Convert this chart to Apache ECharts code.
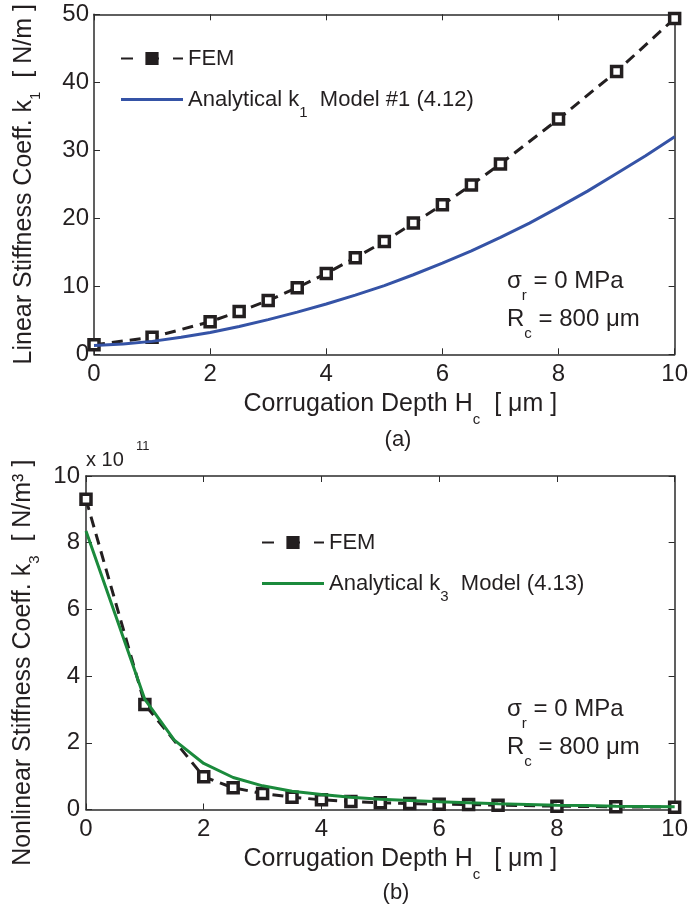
<!DOCTYPE html>
<html>
<head>
<meta charset="utf-8">
<script src="https://cdn.jsdelivr.net/npm/echarts@6/dist/echarts.min.js"></script>
<style>
  html, body { margin: 0; padding: 0; background: #ffffff; }
  #chart { width: 691px; height: 907px; }
</style>
</head>
<body>
<div id="chart"></div>
<script>
// Corrugation depth samples (µm)
const depthFem = [0, 1, 2, 2.5, 3, 3.5, 4, 4.5, 5, 5.5, 6, 6.5, 7, 8, 9, 10];
const depthModel = [0, 0.5, 1, 1.5, 2, 2.5, 3, 3.5, 4, 4.5, 5, 5.5, 6, 6.5, 7, 7.5, 8, 8.5, 9, 9.5, 10];

// (a) linear stiffness k1 [N/m]
const k1Fem = [1.4, 2.5, 4.8, 6.3, 7.9, 9.8, 11.9, 14.2, 16.6, 19.3, 22.0, 24.9, 28.0, 34.6, 41.6, 49.4];
const k1Model = [1.3, 1.5, 1.9, 2.5, 3.2, 4.1, 5.1, 6.2, 7.4, 8.7, 10.1, 11.7, 13.4, 15.2, 17.2, 19.3, 21.6, 24.0, 26.6, 29.2, 32.0];

// (b) nonlinear stiffness k3 [x 1e11 N/m^3]
const k3Fem = [9.3, 3.15, 0.98, 0.65, 0.48, 0.37, 0.29, 0.24, 0.20, 0.18, 0.16, 0.15, 0.13, 0.10, 0.08, 0.07];
const k3Model = [8.35, 5.83, 3.3, 2.08, 1.38, 0.96, 0.71, 0.55, 0.45, 0.37, 0.31, 0.27, 0.23, 0.20, 0.17, 0.15, 0.13, 0.12, 0.10, 0.09, 0.08];

// Axis tick values
const depthTicks = [0, 2, 4, 6, 8, 10];
const k1Ticks = [0, 10, 20, 30, 40, 50];
const k3Ticks = [0, 2, 4, 6, 8, 10];

const FONT = "'Liberation Sans', Arial, Helvetica, sans-serif";
const INK = '#231f20';
const FRAME = '#2b2b2b';
const BLUE = '#3553a6';
const GREEN = '#1b8a3c';

const pairs = (xs, ys) => xs.map((x, i) => [x, ys[i]]);

function tickRange(ticks) {
  return { min: ticks[0], max: ticks[ticks.length - 1], interval: ticks[1] - ticks[0] };
}

function frameAxis(gridIndex, position, ticks, extra) {
  return Object.assign({
    type: 'value',
    gridIndex: gridIndex,
    position: position,
    axisLine: { show: true, onZero: false, lineStyle: { color: FRAME, width: 1.5 } },
    axisTick: { show: true, inside: true, length: 6, lineStyle: { color: FRAME, width: 1 } },
    axisLabel: { show: false },
    splitLine: { show: false }
  }, tickRange(ticks), extra || {});
}

const tickLabel = (margin) => ({ show: true, fontSize: 24, color: INK, fontFamily: FONT, margin: margin });

// rich styles for axis names with subscripts
const titleRich = (lh) => ({
  m: { fontSize: 25, fontFamily: FONT, color: INK, lineHeight: lh },
  s: { fontSize: 15, fontFamily: FONT, color: INK, lineHeight: 15, verticalAlign: 'bottom' }
});

// legend text: the subscript token is pushed down by its top padding
const legendRich = {
  m: { fontSize: 22, fontFamily: FONT, color: INK, lineHeight: 24 },
  s: { fontSize: 15, fontFamily: FONT, color: INK, lineHeight: 15, padding: [26, 0, 0, 0] }
};

const legendText = {
  femK1: '{m|FEM}{s| }',
  modelK1: '{m|Analytical k}{s|1}{m|  Model #1 (4.12)}',
  femK3: '{m|FEM}{s| }',
  modelK3: '{m|Analytical k}{s|3}{m|  Model (4.13)}'
};

const femStyle = {
  type: 'line',
  symbol: 'rect',
  symbolSize: 10,
  itemStyle: { color: '#ffffff', borderColor: INK, borderWidth: 3.5 },
  lineStyle: { color: INK, width: 3, type: [11, 7] },
  z: 2
};

const modelStyle = (color) => ({
  type: 'line',
  symbol: 'none',
  itemStyle: { color: color, borderWidth: 0 },
  lineStyle: { color: color, width: 3 },
  z: 3
});

function legendBlock(left, top, names) {
  return {
    orient: 'vertical',
    left: left,
    top: top,
    padding: 0,
    itemGap: 0,
    itemWidth: 62,
    itemHeight: 14,
    selectedMode: false,
    lineStyle: { type: [12, 14] },
    data: [
      { name: names[0], itemStyle: { color: INK, borderColor: INK } },
      { name: names[1], icon: 'path://M0,0H62V3H0Z' }
    ],
    formatter: (name) => legendText[name],
    textStyle: { rich: legendRich }
  };
}

function noteText(x, y, sym, sub, rest) {
  return {
    type: 'text',
    x: x,
    y: y,
    style: {
      text: '{m|' + sym + '}{s|' + sub + '}{m|' + rest + '}',
      align: 'left',
      verticalAlign: 'middle',
      rich: {
        m: { fontSize: 24, fontFamily: FONT, fill: INK, lineHeight: 44 },
        s: { fontSize: 15, fontFamily: FONT, fill: INK, lineHeight: 15, verticalAlign: 'bottom' }
      }
    }
  };
}

function plainText(x, y, text, size, align) {
  return {
    type: 'text',
    x: x,
    y: y,
    style: { text: text, fontSize: size, fontFamily: FONT, fill: INK, align: align || 'center', verticalAlign: 'middle' }
  };
}

const chart = echarts.init(document.getElementById('chart'), null, { renderer: 'canvas' });

const option = {
  animation: false,
  backgroundColor: '#ffffff',
  grid: [
    { left: 94, top: 14.3, width: 584.5, height: 340 },
    { left: 86, top: 476, width: 595, height: 333.5 }
  ],
  xAxis: [
    frameAxis(0, 'bottom', depthTicks, {
      axisLabel: tickLabel(8),
      name: '{m|Corrugation Depth H}{s|c}{m|  [ μm ]}',
      nameLocation: 'middle',
      nameGap: 26,
      nameTextStyle: { rich: titleRich(47), padding: [0, 0, 0, 32] }
    }),
    frameAxis(0, 'top', depthTicks),
    frameAxis(1, 'bottom', depthTicks, {
      axisLabel: tickLabel(8),
      name: '{m|Corrugation Depth H}{s|c}{m|  [ μm ]}',
      nameLocation: 'middle',
      nameGap: 26,
      nameTextStyle: { rich: titleRich(47), padding: [0, 0, 0, 40] }
    }),
    frameAxis(1, 'top', depthTicks)
  ],
  yAxis: [
    frameAxis(0, 'left', k1Ticks, {
      axisLabel: tickLabel(5),
      name: '{m|Linear Stiffness Coeff. k}{s|1}{m|  [ N/m ]}',
      nameLocation: 'middle',
      nameRotate: 90,
      nameGap: 51,
      nameTextStyle: { rich: titleRich(38) }
    }),
    frameAxis(0, 'right', k1Ticks),
    frameAxis(1, 'left', k3Ticks, {
      axisLabel: tickLabel(6),
      name: '{m|Nonlinear Stiffness Coeff. k}{s|3}{m|  [ N/m³ ]}',
      nameLocation: 'middle',
      nameRotate: 90,
      nameGap: 43,
      nameTextStyle: { rich: titleRich(38), padding: [0, 40, 0, 0] }
    }),
    frameAxis(1, 'right', k3Ticks)
  ],
  legend: [
    legendBlock(120, 38, ['femK1', 'modelK1']),
    legendBlock(261, 522, ['femK3', 'modelK3'])
  ],
  series: [
    Object.assign({ name: 'femK1', xAxisIndex: 0, yAxisIndex: 0, data: pairs(depthFem, k1Fem) }, femStyle),
    Object.assign({ name: 'modelK1', xAxisIndex: 0, yAxisIndex: 0, data: pairs(depthModel, k1Model) }, modelStyle(BLUE)),
    Object.assign({ name: 'femK3', xAxisIndex: 2, yAxisIndex: 2, data: pairs(depthFem, k3Fem) }, femStyle),
    Object.assign({ name: 'modelK3', xAxisIndex: 2, yAxisIndex: 2, data: pairs(depthModel, k3Model) }, modelStyle(GREEN))
  ],
  graphic: [
    noteText(507, 281, 'σ', 'r', ' = 0 MPa'),
    noteText(507, 319, 'R', 'c', ' = 800 μm'),
    noteText(507, 709, 'σ', 'r', ' = 0 MPa'),
    noteText(507, 747, 'R', 'c', ' = 800 μm'),
    plainText(398, 440, '(a)', 22),
    plainText(396, 893, '(b)', 22),
    plainText(86, 460, 'x 10', 20, 'left'),
    plainText(136, 446, '11', 13, 'left')
  ]
};

chart.setOption(option);
</script>
</body>
</html>
